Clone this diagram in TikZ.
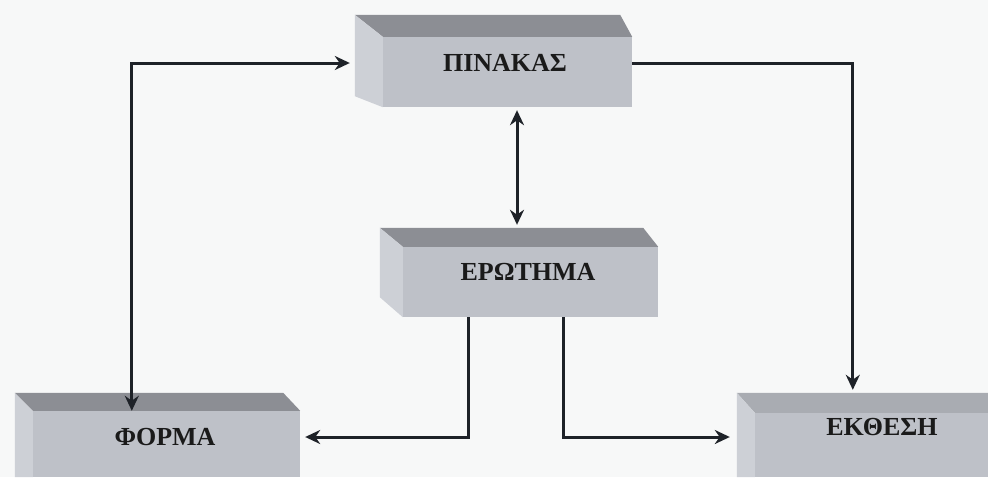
\documentclass[tikz,border=0pt]{standalone}
\usepackage{fontspec}
\setmainfont{Liberation Serif}
\usetikzlibrary{arrows.meta,calc}
\definecolor{bg}{HTML}{F7F8F8}
\definecolor{frontc}{HTML}{BEC1C8}
\definecolor{topc}{HTML}{8C8E94}
\definecolor{toplight}{HTML}{A9ACB2}
\definecolor{sidec}{HTML}{CDD0D6}
\definecolor{linec}{HTML}{1E2228}
\definecolor{txtc}{HTML}{1A1A1A}
\begin{document}
\begin{tikzpicture}[x=1pt,y=-1pt,
  front/.style={fill=frontc, draw=none, rectangle, inner sep=0pt},
  lbl/.style={font=\fontsize{26}{30}\selectfont\bfseries, text=txtc, inner sep=0pt},
  topface/.style={fill=topc},
  sideface/.style={fill=sidec},
  conn/.style={draw=linec, line width=3pt},
  tip/.style={-{Stealth[length=15pt,width=14pt]}},
  tips/.style={{Stealth[length=15pt,width=14pt]}-{Stealth[length=15pt,width=14pt]}}
]
\fill[bg] (0,0) rectangle (988,477);
\useasboundingbox (0,0) rectangle (988,477);

% front faces
\node[front, minimum width=249pt, minimum height=70pt] (pinakas) at (507.5,72) {};
\node[front, minimum width=255pt, minimum height=70pt] (erotima) at (530.5,282) {};
\node[front, minimum width=267pt, minimum height=66pt] (forma) at (166.5,444) {};
\node[front, minimum width=233pt, minimum height=64pt] (ekthesi) at (871.5,445) {};

% 3D faces
\fill[topface] (pinakas.north west) -- ++(-28,-22) -- ($(pinakas.north east)+(-12,-22)$) -- (pinakas.north east) -- cycle;
\fill[sideface] (pinakas.north west) -- ++(-28,-22) -- ($(pinakas.south west)+(-28,-11)$) -- (pinakas.south west) -- cycle;

\fill[topface] (erotima.north west) -- ++(-23,-19) -- ($(erotima.north east)+(-15,-19)$) -- (erotima.north east) -- cycle;
\fill[sideface] (erotima.north west) -- ++(-23,-19) -- ($(erotima.south west)+(-23,-20)$) -- (erotima.south west) -- cycle;

\fill[topface] (forma.north west) -- ++(-18,-18) -- ($(forma.north east)+(-17,-18)$) -- (forma.north east) -- cycle;
\fill[sideface] (forma.north west) -- ++(-18,-18) -- ($(forma.south west)+(-18,0)$) -- (forma.south west) -- cycle;

\fill[toplight] (ekthesi.north west) -- ++(-18,-20) -- ($(ekthesi.north east)+(0,-20)$) -- (ekthesi.north east) -- cycle;
\fill[sideface] (ekthesi.north west) -- ++(-18,-20) -- ($(ekthesi.south west)+(-18,0)$) -- (ekthesi.south west) -- cycle;

% labels
\node[lbl] (pinakas-t) at ($(pinakas)+(-2.5,-9.5)$) {ΠΙΝΑΚΑΣ};
\node[lbl] (erotima-t) at ($(erotima)+(-2.5,-10)$) {ΕΡΩΤΗΜΑ};
\node[lbl] (forma-t) at ($(forma)+(-1.5,-7)$) {ΦΟΡΜΑ};
\node[lbl] (ekthesi-t) at ($(ekthesi)+(10.5,-17.5)$) {ΕΚΘΕΣΗ};

% connectors
\draw[conn,tips] ($(forma.north west)+(99,0)$) |- ($(pinakas.west)+(-33,-9)$);
\draw[conn,tip] ($(pinakas.east)+(0,-9)$) -| ($(ekthesi.north west)+(98,-23)$);
\draw[conn,tips] ($(pinakas.south)+(9.5,3)$) -- ($(erotima.north)+(-13.5,-22)$);
\draw[conn,tip] ($(erotima.south)+(-62.5,0)$) |- ($(forma.east)+(5,-7)$);
\draw[conn,tip] ($(erotima.south)+(32.5,0)$) |- ($(ekthesi.west)+(-25,-8)$);
\end{tikzpicture}
\end{document}
